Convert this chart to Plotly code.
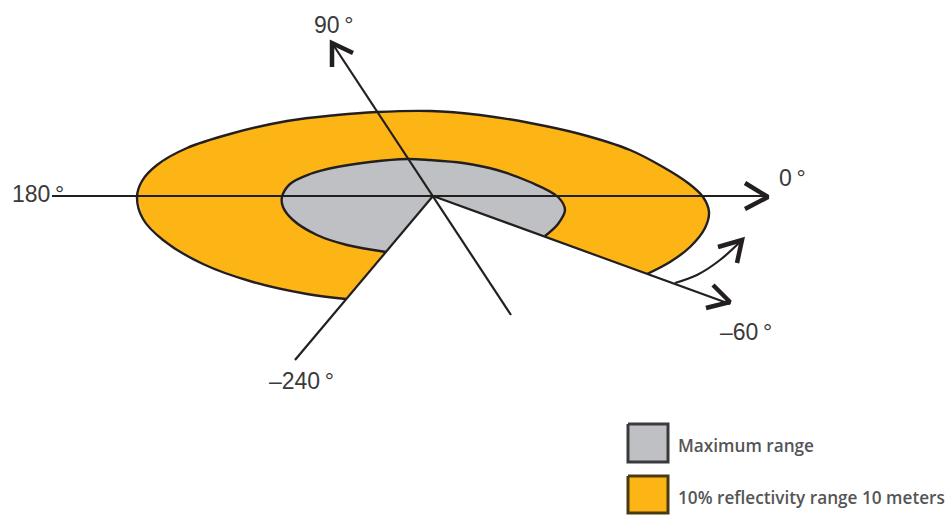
import plotly.graph_objects as go

center = (433, 196)
outer_x = [647, 670, 690, 705, 709, 703, 688, 663, 630, 580, 530, 480, 430, 377, 337, 287, 230, 187, 157, 142, 137, 143, 163, 203, 253, 307, 346]
outer_y = [274, 262, 247, 228, 212, 197, 183, 167, 150, 134, 123, 115, 111, 112, 115, 121, 134, 148, 165, 181, 197, 219, 240, 264, 282, 294, 299]
inner_x = [545, 558, 565, 558, 530, 497, 463, 430, 407, 370, 337, 310, 290, 282, 283, 293, 317, 347, 386]
inner_y = [236, 224, 210, 197, 182, 170, 163, 160, 159, 162, 167, 174, 184, 197, 207, 220, 235, 245, 252]

axis_lines = {
    "h": ([52, 768], [196, 196]),
    "v": ([511, 332], [315, 43]),
    "m240": ([433, 295], [196, 360]),
    "m60": ([433, 730], [196, 304]),
}
arrow_0 = ([745, 768, 745], [183, 197, 209])
arrow_90 = ([332, 332, 353], [67, 43, 53])
arrow_m60 = ([713, 730, 706], [285, 302, 308])
arrow_sweep = ([718, 742, 737], [247, 240, 263])
sweep_x = [675, 697, 720, 742]
sweep_y = [283, 275, 260, 240]

legend_boxes = [
    ("Maximum range", 628, 668, 424, 462, "#bec0c4", "#3a3a3c", 445),
    ("10% reflectivity range 10 meters", 628, 668, 476, 513, "#fdb515", "#4a3a10", 497),
]
labels = [
    ("90\u2009°", 333, 25), ("180\u2009°", 38, 194), ("0\u2009°", 792, 178),
    ("\u2013240\u2009°", 301, 381), ("\u201360\u2009°", 746, 332),
]

INK = "#231f20"
fig = go.Figure()

def line(x, y, width=2.0, color=INK, shape="linear"):
    fig.add_trace(go.Scatter(x=x, y=y, mode="lines", hoverinfo="skip",
                             line=dict(color=color, width=width, shape=shape, smoothing=1.0)))

def patch(x, y, color, lc="rgba(0,0,0,0)", lw=0):
    fig.add_trace(go.Scatter(x=x, y=y, mode="lines", fill="toself", fillcolor=color,
                             hoverinfo="skip", line=dict(color=lc, width=lw)))

patch(outer_x + [center[0]], outer_y + [center[1]], "#fdb515")
patch(inner_x + [center[0]], inner_y + [center[1]], "#bec0c4")
line(outer_x, outer_y, 2.4, shape="spline")
line(inner_x, inner_y, 2.4, shape="spline")
for x, y in axis_lines.values():
    line(x, y, 2.2)
line(sweep_x, sweep_y, 2.2, shape="spline")
for x, y in (arrow_0, arrow_90, arrow_m60, arrow_sweep):
    line(x, y, 4.5)

for text, x0, x1, y0, y1, fc, lc, ty in legend_boxes:
    patch([x0, x1, x1, x0, x0], [y0, y0, y1, y1, y0], fc, lc, 3)
    fig.add_annotation(x=676, y=ty, text=text, showarrow=False, xanchor="left", yanchor="middle",
                       font=dict(family="Open Sans", size=17.2, color="#555557", weight=600))

for text, x, y in labels:
    fig.add_annotation(x=x, y=y, text=text, showarrow=False,
                       font=dict(family="Liberation Sans", size=23, color="#3a3a3a"))

fig.update_layout(
    width=952, height=515, margin=dict(l=0, r=0, t=0, b=0),
    paper_bgcolor="white", plot_bgcolor="white", showlegend=False,
    xaxis=dict(range=[0, 952], visible=False, fixedrange=True),
    yaxis=dict(range=[515, 0], visible=False, fixedrange=True),
)
fig.write_html("out.html", config=dict(displayModeBar=False),
               post_script="document.body.style.margin='0';document.documentElement.style.overflow='hidden';")
